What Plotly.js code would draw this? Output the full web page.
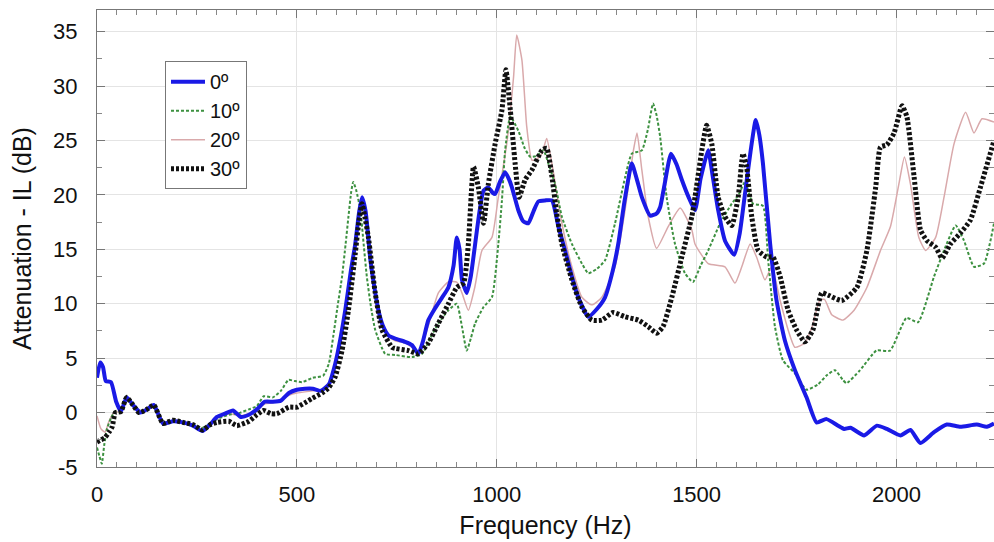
<!DOCTYPE html>
<html>
<head>
<meta charset="utf-8">
<script src="https://cdn.plot.ly/plotly-3.0.1.min.js"></script>
<style>html,body{margin:0;padding:0;background:#fff;}#chart{width:994px;height:542px;}</style>
</head>
<body>
<div id="chart"></div>
<script>
// Series names
const seriesNames = ["0º", "10º", "20º", "30º"];

// 0º (blue)
const f0 = [0,8,15,22,35,48,60,74,90,109,125,142,165,190,215,240,264,285,300,320,340,360,380,400,420,440,460,480,500,520,540,560,580,596,610,621,635,646,656,663,672,684,694,704,715,729,746,771,788,804,815,829,846,862,879,892,900,907,913,925,935,946,957,967,979,990,996,1008,1021,1030,1038,1054,1066,1079,1092,1104,1121,1138,1155,1171,1188,1204,1229,1250,1271,1290,1304,1320,1338,1350,1363,1384,1400,1409,1420,1436,1450,1463,1480,1496,1510,1529,1540,1554,1571,1594,1608,1621,1635,1648,1657,1666,1684,1700,1721,1746,1775,1800,1825,1854,1869,1885,1919,1951,1976,2010,2035,2060,2094,2126,2160,2201,2226,2244];
const a0 = [3.2,4.6,4.2,2.9,2.8,1.0,0.1,1.4,0.7,0.0,0.3,0.7,-1.0,-0.8,-0.9,-1.2,-1.7,-1.0,-0.4,-0.1,0.2,-0.4,-0.2,0.3,1.0,1.0,1.1,1.8,2.1,2.2,2.2,2.0,2.6,4.5,7.0,9.4,13.0,15.5,18.5,19.8,18.5,14.0,11.5,9.4,8.0,7.1,6.8,6.5,6.2,5.4,6.5,8.5,9.6,10.5,11.5,13.5,16.1,15.0,12.2,11.0,12.5,15.5,18.5,20.4,20.7,20.2,20.1,21.2,22.1,21.5,20.7,18.6,17.6,17.4,18.5,19.4,19.5,19.5,17.0,14.9,12.5,10.6,8.8,9.5,10.6,13.0,15.5,19.5,22.9,21.5,19.8,18.1,18.3,18.9,21.0,23.8,22.8,21.4,19.8,18.6,21.5,24.1,21.8,18.6,15.8,14.5,16.5,20.1,24.0,26.9,25.5,22.9,15.5,10.3,6.6,3.9,1.4,-0.9,-0.6,-1.2,-1.5,-1.4,-2.1,-1.2,-1.5,-2.1,-1.6,-2.8,-1.8,-1.1,-1.3,-1.1,-1.3,-1.0];

// 10º (green dotted)
const f10 = [0,6,12,18,25,35,45,60,74,90,109,125,142,165,190,215,240,264,284,300,330,359,380,400,417,440,460,479,495,513,540,566,580,591,602,613,622,629,636,641,648,659,667,675,685,696,721,746,788,813,833,854,879,900,913,925,935,946,967,988,1004,1013,1021,1034,1054,1070,1084,1100,1117,1130,1146,1163,1188,1213,1229,1250,1271,1296,1321,1338,1363,1378,1391,1400,1409,1425,1446,1471,1491,1510,1529,1559,1588,1605,1621,1641,1666,1679,1696,1716,1746,1775,1804,1825,1846,1866,1875,1909,1950,1984,2025,2054,2094,2119,2148,2169,2194,2219,2244];
const a10 = [-3.2,-4.0,-4.7,-3.0,-1.5,-0.5,0.1,0.1,1.4,0.7,0.0,0.3,0.7,-1.0,-0.8,-0.9,-1.1,-1.4,-1.0,-0.6,-0.2,0.0,0.3,0.6,1.5,1.4,2.0,3.0,2.9,2.8,3.2,3.4,4.5,7.0,9.8,12.5,15.5,18.0,20.3,21.2,20.5,18.6,15.5,12.5,9.8,7.6,5.4,5.3,5.1,5.4,6.8,8.2,9.4,10.0,7.9,5.7,6.8,8.2,9.7,10.6,15.5,19.5,24.1,27.2,25.9,24.3,23.5,23.6,24.1,22.8,21.0,18.0,15.5,13.7,12.8,13.2,14.0,17.4,21.6,23.8,24.1,26.0,28.4,27.3,25.3,19.8,15.5,12.8,12.0,13.5,14.9,17.4,19.2,20.0,21.2,19.2,19.0,14.0,7.9,4.8,3.6,2.1,2.6,3.4,3.9,3.0,2.7,3.9,5.7,5.7,8.7,8.3,12.5,14.9,17.2,15.8,13.4,13.7,17.4];

// 20º (pink)
const f20 = [0,10,20,30,42,60,74,90,109,125,142,165,190,215,240,264,285,300,330,360,400,420,440,460,480,500,540,570,590,605,621,635,646,656,663,672,684,704,729,746,771,788,804,829,854,879,900,913,929,945,963,988,1004,1025,1042,1050,1063,1075,1088,1100,1113,1125,1138,1163,1188,1213,1238,1263,1296,1321,1342,1351,1363,1379,1400,1429,1459,1488,1496,1529,1571,1596,1613,1634,1650,1671,1688,1709,1729,1746,1771,1790,1808,1820,1838,1866,1894,1926,1960,1985,2006,2020,2035,2056,2073,2098,2119,2144,2173,2194,2214,2244];
const a20 = [-0.3,-1.5,-1.8,-0.8,0.0,0.1,1.4,0.7,0.0,0.3,0.7,-1.0,-0.8,-0.9,-1.2,-1.6,-1.0,-0.5,-0.1,-0.3,0.2,0.8,0.9,1.2,1.6,1.8,2.0,2.2,3.5,6.0,9.0,12.5,15.0,18.0,19.3,18.0,13.8,9.2,7.0,6.6,6.4,6.0,5.5,8.0,11.0,12.0,12.0,11.0,9.4,11.5,14.9,16.1,19.8,24.7,30.8,34.7,32.4,26.3,23.2,23.3,23.8,25.2,22.9,17.4,13.4,10.6,9.9,10.6,13.4,18.6,24.1,25.7,22.3,18.0,15.1,17.1,18.8,16.8,15.5,13.7,13.4,11.9,13.4,15.5,14.3,12.2,13.4,10.3,7.6,6.0,6.4,8.0,10.3,10.4,9.0,8.5,9.4,11.5,14.9,17.1,21.0,23.5,21.0,16.1,14.9,16.1,19.8,24.7,27.6,25.7,27.0,26.7];

// 30º (black dotted)
const f30 = [0,10,20,30,38,46,60,74,90,105,125,142,165,190,215,240,264,284,300,330,350,380,400,417,435,450,480,500,520,538,563,580,596,613,629,646,655,663,670,679,696,713,738,746,779,804,829,854,879,900,917,929,942,954,967,979,996,1013,1023,1034,1046,1056,1071,1088,1113,1125,1138,1150,1163,1188,1213,1238,1263,1291,1321,1354,1379,1400,1416,1438,1463,1488,1496,1513,1525,1538,1554,1571,1588,1604,1616,1625,1638,1654,1675,1691,1709,1729,1750,1771,1791,1813,1829,1863,1901,1926,1948,1960,1976,1994,2014,2026,2044,2060,2076,2098,2114,2135,2160,2185,2210,2244];
const a30 = [-2.7,-2.5,-2.3,-1.8,-1.3,0.0,0.1,1.4,0.7,0.0,0.3,0.7,-1.0,-0.7,-0.9,-1.1,-1.6,-1.1,-0.9,-0.8,-1.2,-0.8,-0.2,0.2,-0.1,-0.1,0.5,0.5,0.9,1.3,1.8,2.3,3.3,5.7,9.4,14.6,17.5,19.2,18.0,16.1,11.0,7.6,6.0,5.9,5.7,5.4,6.4,8.2,10.0,11.5,11.9,15.5,22.6,20.7,17.4,21.0,24.7,27.8,31.5,27.8,22.9,19.8,21.4,22.3,24.1,24.3,21.7,18.3,15.5,12.2,9.7,8.5,8.5,9.2,8.8,8.5,7.9,7.3,7.9,10.6,14.3,18.0,19.8,24.1,26.4,24.7,19.8,18.0,17.2,19.8,23.8,22.6,18.0,14.9,14.3,14.3,12.5,9.4,7.6,6.5,7.6,11.0,10.8,10.3,11.5,14.9,20.7,24.4,24.6,25.7,28.2,27.2,21.7,16.8,15.8,15.2,14.2,15.5,16.5,17.7,20.7,25.0];

// Axis ticks
const xTicks = [0, 500, 1000, 1500, 2000];
const yTicks = [-5, 0, 5, 10, 15, 20, 25, 30, 35];

const FONT = '"Liberation Sans", Arial, Helvetica, sans-serif';
const lineShape = {shape: 'spline', smoothing: 0.5};

const traces = [
  {x: f20, y: a20, name: seriesNames[2], legendrank: 3, mode: 'lines',
   line: Object.assign({color: '#d9a9ab', width: 1.5}, lineShape)},
  {x: f10, y: a10, name: seriesNames[1], legendrank: 2, mode: 'lines',
   line: Object.assign({color: '#3d9140', width: 2, dash: '3px,2px'}, lineShape)},
  {x: f0, y: a0, name: seriesNames[0], legendrank: 1, mode: 'lines',
   line: Object.assign({color: '#1a1ae6', width: 4}, lineShape)},
  {x: f30, y: a30, name: seriesNames[3], legendrank: 4, mode: 'lines',
   line: Object.assign({color: '#111111', width: 5, dash: '3px,2px'}, lineShape)}
];

const layout = {
  width: 994, height: 542,
  margin: {l: 97, r: 0, t: 10, b: 75},
  paper_bgcolor: '#ffffff', plot_bgcolor: '#ffffff',
  font: {family: FONT, size: 22, color: '#111'},
  showlegend: true,
  legend: {
    x: 0.0758, y: 0.888, xanchor: 'left', yanchor: 'top',
    bgcolor: '#ffffff', bordercolor: '#777', borderwidth: 1,
    font: {family: FONT, size: 20, color: '#111'},
    traceorder: 'normal', itemwidth: 34
  },
  xaxis: {
    range: [0, 2244], tickvals: xTicks, ticktext: xTicks.map(String),
    ticks: 'inside', ticklen: 8, tickcolor: '#777',
    minor: {dtick: 50, tick0: 0, ticks: 'inside', ticklen: 5, tickcolor: '#888', showgrid: false},
    showline: true, linecolor: '#777', linewidth: 1, mirror: 'ticks',
    showgrid: true, gridcolor: '#e4e4e4', gridwidth: 1,
    zeroline: false, ticklabelstandoff: 8,
    tickfont: {family: FONT, size: 22, color: '#111'},
    title: {text: 'Frequency (Hz)', font: {family: FONT, size: 25, color: '#111'}, standoff: 10}
  },
  yaxis: {
    range: [-5, 37], tickvals: yTicks, ticktext: yTicks.map(String),
    ticks: 'inside', ticklen: 8, tickcolor: '#777',
    minor: {dtick: 2.5, tick0: 0, ticks: 'inside', ticklen: 5, tickcolor: '#888', showgrid: false},
    showline: true, linecolor: '#777', linewidth: 1, mirror: 'ticks',
    showgrid: true, gridcolor: '#e4e4e4', gridwidth: 1,
    zeroline: false, ticklabelstandoff: 14,
    tickfont: {family: FONT, size: 22, color: '#111'},
    title: {text: 'Attenuation - IL (dB)', font: {family: FONT, size: 25, color: '#111'}, standoff: 14}
  }
};

Plotly.newPlot('chart', traces, layout, {displayModeBar: false, staticPlot: true});
</script>
</body>
</html>
